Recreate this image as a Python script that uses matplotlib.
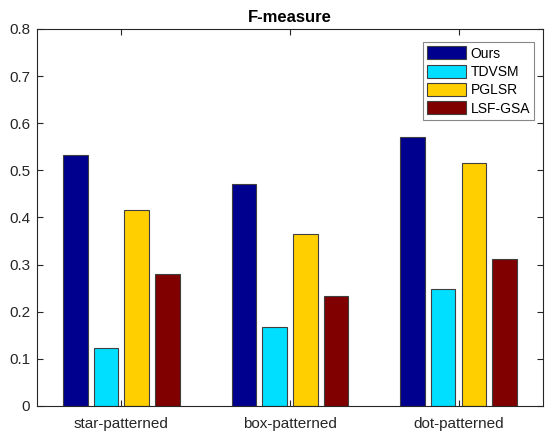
import numpy as np
import matplotlib.pyplot as plt

plt.rcParams['font.family'] = ['Liberation Sans', 'DejaVu Sans']

categories = ['star-patterned', 'box-patterned', 'dot-patterned']
methods = ['Ours', 'TDVSM', 'PGLSR', 'LSF-GSA']
ours = [0.533, 0.472, 0.571]
tdvsm = [0.124, 0.167, 0.248]
pglsr = [0.416, 0.364, 0.515]
lsf_gsa = [0.280, 0.234, 0.311]
colors = ['#00008F', '#00DFFF', '#FFCF00', '#800000']

fig = plt.figure(figsize=(5.45, 4.33), dpi=100)
ax = fig.add_axes([0.068, 0.0624, 0.928, 0.8707])

x = np.arange(1, len(categories) + 1)
step = min(0.8, 4 / 5.5) / 4  # matlab grouped bar spacing
width = 0.8 * step
for i, (vals, name) in enumerate(zip([ours, tdvsm, pglsr, lsf_gsa], methods)):
    ax.bar(x + (i - 1.5) * step, vals, width, color=colors[i], label=name,
           edgecolor='#404040', linewidth=0.8)

ax.set_xlim(0.5, 3.5)
ax.set_ylim(0, 0.8)
ax.set_xticks(x)
ax.set_xticklabels(categories, fontsize=11.5)
ax.set_yticks(np.arange(0, 0.81, 0.1))
ax.set_yticklabels(['0'] + ['%.1f' % v for v in np.arange(0.1, 0.81, 0.1)])
ax.tick_params(direction='in', top=True, right=True, length=4, width=0.8,
               labelsize=11, colors='#262626')
ax.tick_params(axis='x', pad=8)
ax.tick_params(axis='y', pad=5)
for s in ax.spines.values():
    s.set_color('#262626')
    s.set_linewidth(0.8)
ax.set_title('F-measure', fontsize=12, fontweight='bold', pad=5)

leg = ax.legend(loc='upper right', bbox_to_anchor=(0.983, 0.965), fontsize=10,
                fancybox=False, framealpha=1, edgecolor='#888888',
                handlelength=2.8, handleheight=1.06, handletextpad=0.3,
                labelspacing=0.3, borderpad=0.3, borderaxespad=0)
leg.get_frame().set_linewidth(0.8)

fig.savefig('out.png', dpi=100)
